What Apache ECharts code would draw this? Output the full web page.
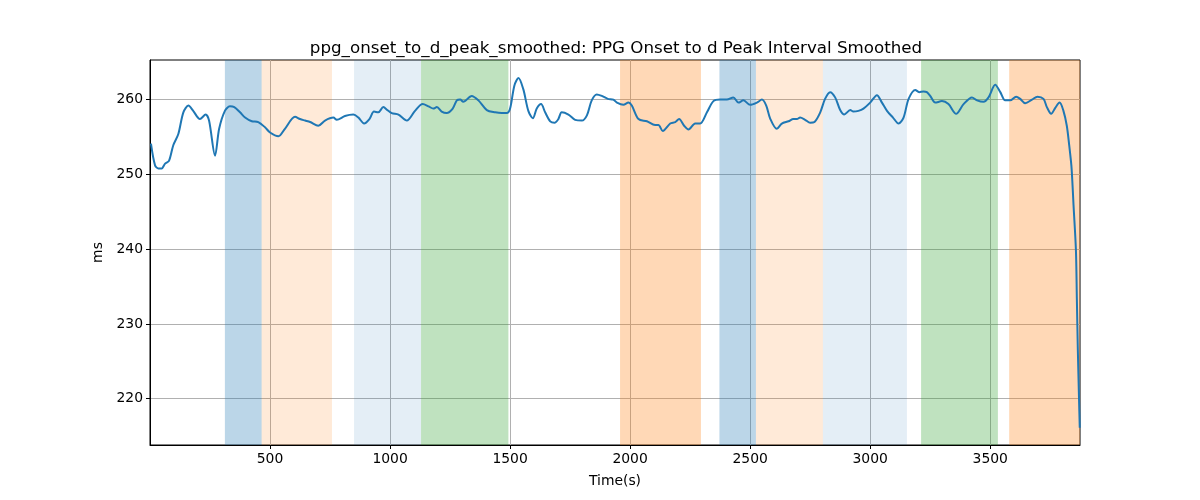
<!DOCTYPE html>
<html>
<head>
<meta charset="utf-8">
<script src="https://cdn.jsdelivr.net/npm/echarts@6/dist/echarts.min.js"></script>
<style>html,body{margin:0;padding:0;background:#fff}#chart{width:1200px;height:500px}</style>
</head>
<body>
<div id="chart"></div>
<script>
const timeSec = [4,21,35,49,62,79,97,118,139,160,180,208,232,246,271,288,312,333,351,375,396,424,451,479,500,535,562,604,625,646,667,701,729,764,778,812,847,868,892,914,933,951,972,989,1007,1035,1070,1104,1136,1160,1180,1195,1215,1236,1261,1278,1292,1305,1340,1368,1403,1438,1465,1486,1500,1518,1535,1555,1576,1595,1611,1629,1646,1667,1685,1701,1715,1743,1771,1799,1820,1840,1861,1882,1907,1930,1945,1972,1993,2007,2035,2070,2104,2118,2136,2167,2188,2204,2225,2243,2271,2292,2320,2347,2375,2403,2430,2451,2472,2500,2528,2549,2567,2583,2611,2632,2660,2680,2695,2708,2729,2750,2768,2792,2812,2833,2854,2875,2892,2917,2930,2951,2972,3000,3028,3049,3070,3095,3118,3139,3160,3188,3204,3222,3236,3250,3271,3299,3326,3358,3389,3424,3445,3472,3493,3521,3542,3562,3583,3608,3625,3646,3674,3697,3722,3736,3754,3771,3789,3805,3819,3829,3838,3843,3847,3857,3861,3865,3870,3873];
const intervalMs = [254.1,251.2,250.8,250.8,251.4,251.8,253.9,255.4,258.3,259.2,258.5,257.4,258.0,257.2,252.5,256.1,258.5,259.1,259.0,258.3,257.6,257.1,257.0,256.3,255.6,255.1,256.1,257.7,257.4,257.2,257.0,256.5,257.2,257.6,257.3,257.8,258.0,257.6,256.8,257.4,258.4,258.3,259.0,258.6,258.2,258.0,257.2,258.5,259.4,259.1,258.8,259.0,258.4,258.2,258.8,259.9,260.0,259.7,260.5,259.9,258.6,258.3,258.2,258.2,258.8,261.9,262.9,261.4,258.5,257.5,258.8,259.4,258.3,257.1,256.9,257.4,258.3,258.0,257.3,257.2,257.9,259.9,260.7,260.5,260.1,260.0,259.6,259.3,259.6,259.2,257.4,257.1,256.6,256.6,255.8,256.8,257.0,257.4,256.5,256.0,256.8,256.8,258.3,259.8,260.0,260.0,260.3,259.6,259.9,259.3,259.6,260.0,259.2,257.5,256.1,256.8,257.1,257.4,257.4,257.6,257.3,256.9,257.0,258.3,260.1,261.0,260.3,258.6,258.0,258.6,258.4,258.5,258.8,259.6,260.6,259.6,258.5,257.6,256.8,257.6,260.1,261.3,261.0,261.1,261.0,260.5,259.6,259.8,259.4,258.1,259.4,260.3,259.9,259.7,260.3,262.0,261.0,259.9,259.9,260.4,260.1,259.5,260.0,260.4,260.1,259.0,258.1,258.9,259.6,258.5,256.5,253.9,251.2,248.5,245.9,239.9,233.2,226.5,219.9,216.1];

const bandStart = [312, 465, 850, 1129, 1958, 2372, 2524, 2803, 3212, 3579];
const bandEnd   = [465, 758, 1129, 1493, 2295, 2524, 2803, 3153, 3532, 3874];
const bandKind  = ['blue', 'orangeLight', 'blueLight', 'green', 'orange', 'blue', 'orangeLight', 'blueLight', 'green', 'orange'];

const xTicks = [500, 1000, 1500, 2000, 2500, 3000, 3500];
const yTicks = [220, 230, 240, 250, 260];

const bandColors = {
  blue: 'rgba(31,119,180,0.3)',
  blueLight: 'rgba(31,119,180,0.12)',
  orange: 'rgba(255,127,14,0.3)',
  orangeLight: 'rgba(255,127,14,0.16)',
  green: 'rgba(44,160,44,0.3)'
};

const lineData = timeSec.map((t, i) => [t, intervalMs[i]]);
const areas = bandStart.map((s, i) => [
  { xAxis: s, itemStyle: { color: bandColors[bandKind[i]] } },
  { xAxis: bandEnd[i] }
]);

const font = 'DejaVu Sans';
const chart = echarts.init(document.getElementById('chart'), null, { renderer: 'canvas' });
chart.setOption({
  animation: false,
  backgroundColor: '#fff',
  title: {
    text: 'ppg_onset_to_d_peak_smoothed: PPG Onset to d Peak Interval Smoothed',
    left: 611, top: 35, textAlign: 'center',
    textStyle: { fontFamily: font, fontSize: 16.7, fontWeight: 'normal', color: '#000' }
  },
  grid: { left: 150, right: 120, top: 60, bottom: 55, show: true, borderColor: '#000', borderWidth: 1, backgroundColor: 'transparent' },
  xAxis: {
    type: 'value', min: 0, max: 3874,
    name: 'Time(s)', nameLocation: 'middle', nameGap: 29,
    nameTextStyle: { fontFamily: font, fontSize: 13.9, color: '#000' },
    axisLine: { show: true, lineStyle: { color: '#000', width: 1 } },
    axisTick: { show: true, length: 4, customValues: xTicks, lineStyle: { color: '#000' } },
    axisLabel: { customValues: xTicks, margin: 7, fontFamily: font, fontSize: 13.9, color: '#000', formatter: v => String(v) },
    splitLine: { show: true, lineStyle: { color: '#b0b0b0', width: 1 } }
  },
  yAxis: {
    type: 'value', min: 213.8, max: 265.3,
    name: 'ms', nameLocation: 'middle', nameGap: 44, nameRotate: 90,
    nameTextStyle: { fontFamily: font, fontSize: 13.9, color: '#000' },
    axisLine: { show: true, lineStyle: { color: '#000', width: 1 } },
    axisTick: { show: true, length: 4, customValues: yTicks, lineStyle: { color: '#000' } },
    axisLabel: { customValues: yTicks, margin: 7, fontFamily: font, fontSize: 13.9, color: '#000', formatter: v => String(v) },
    splitLine: { show: true, lineStyle: { color: '#b0b0b0', width: 1 } }
  },
  series: [{
    type: 'line',
    data: lineData,
    showSymbol: false,
    smooth: 0.3,
    clip: false,
    lineStyle: { color: '#1f77b4', width: 2 },
    markArea: { silent: true, data: areas }
  }]
});
</script>
</body>
</html>
